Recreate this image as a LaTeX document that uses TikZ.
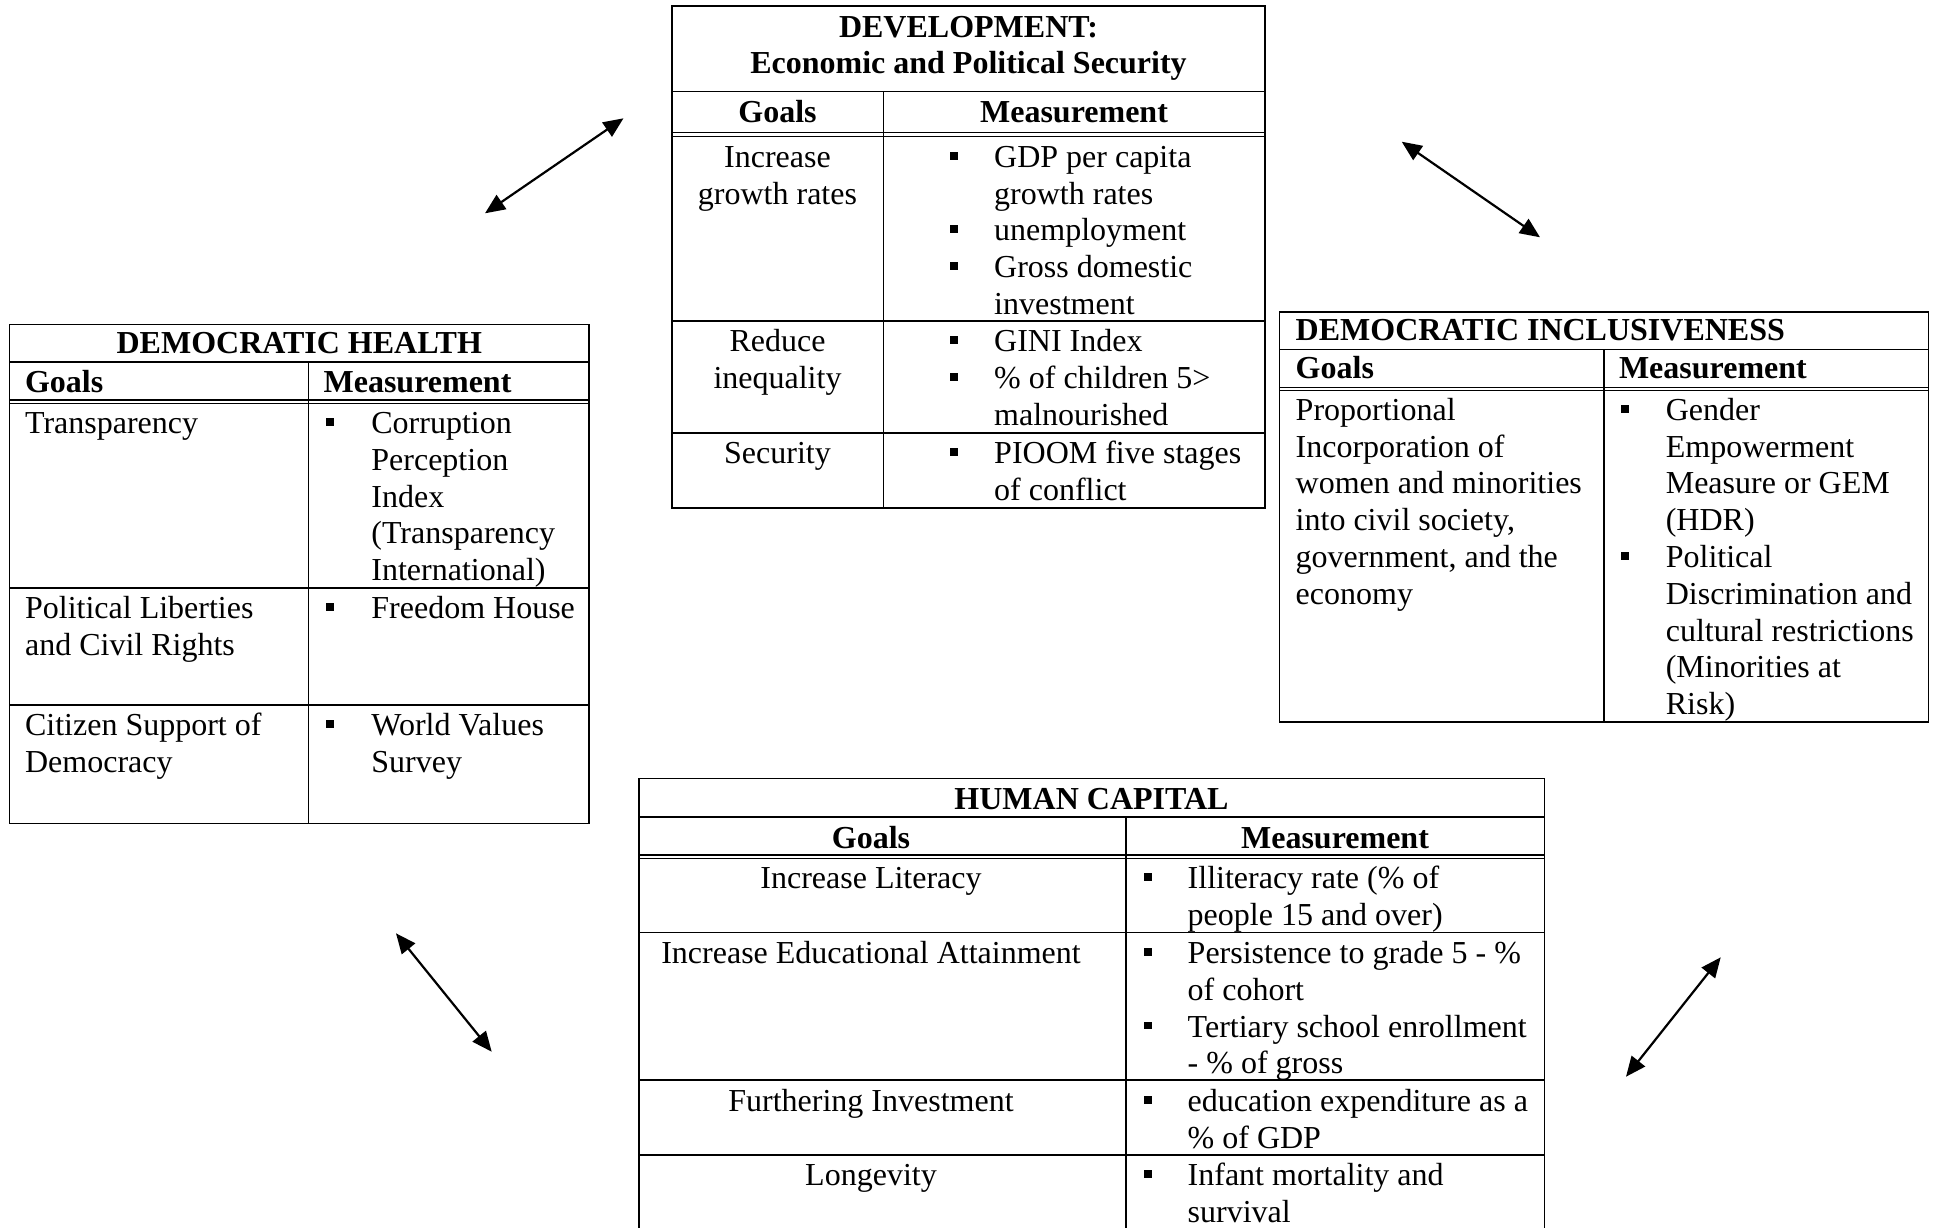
\documentclass[tikz,border=0pt]{standalone}
\usepackage{fontspec}
\setmainfont{Liberation Serif}
\usetikzlibrary{arrows.meta}
\newcommand\bulsq[2]{\fill (#1-3.9,#2-15.3) rectangle (#1+3.9,#2-7.5);}
\begin{document}
\begin{tikzpicture}[x=1pt,y=-1pt,
  frame/.style={line width=1.6pt},
  rule/.style={line width=1.6pt},
  thinrule/.style={line width=1.1pt},
  txt/.style={inner sep=0pt, yshift=25.76pt, font=\fontsize{32}{36.8}\selectfont},
  lcell/.style={txt, anchor=north west, align=left},
  ccell/.style={txt, anchor=north, align=center},
  blcell/.style={lcell, font=\fontsize{32}{36.8}\selectfont\bfseries},
  bccell/.style={ccell, font=\fontsize{32}{36.8}\selectfont\bfseries},
  link/.style={line width=2.2pt, {Triangle[length=20pt,width=17pt]}-{Triangle[length=20pt,width=17pt]}}
]
\useasboundingbox (0,0) rectangle (1937,1228);

% ---------------- DEVELOPMENT ----------------
\draw[frame] (672,6) rectangle (1265,507.7);
\draw[rule] (672,91.7) -- (1265,91.7);
\draw[rule] (883.4,91.7) -- (883.4,507.7);
\draw[thinrule] (672,132.8) -- (1265,132.8);
\draw[thinrule] (672,136.4) -- (1265,136.4);
\draw[rule] (672,320.7) -- (1265,320.7);
\draw[rule] (672,432.7) -- (1265,432.7);
\node[bccell] (devT) at (968.5,37) {\strut DEVELOPMENT:\\Economic and Political Security};
\node[bccell] (devG) at (777.5,122) {\strut Goals};
\node[bccell] (devM) at (1074,122) {\strut Measurement};
\node[ccell] (devg1) at (777.5,167) {\strut Increase\\growth rates};
\node[lcell] (devm1) at (994,167) {\strut GDP per capita\\growth rates\\unemployment\\Gross domestic\\investment};
\bulsq{954}{167}\bulsq{954}{240.6}\bulsq{954}{277.4}
\node[ccell] (devg2) at (777.5,351.5) {\strut Reduce\\inequality};
\node[lcell] (devm2) at (994,351.5) {\strut GINI Index\\\% of children 5>\\malnourished};
\bulsq{954}{351.5}\bulsq{954}{388.3}
\node[ccell] (devg3) at (777.5,463) {\strut Security};
\node[lcell] (devm3) at (994,463) {\strut PIOOM five stages\\of conflict};
\bulsq{954}{463}

% ---------------- DEMOCRATIC HEALTH ----------------
\draw[frame] (9.6,324.3) rectangle (589,823.3);
\draw[rule] (9.6,361.7) -- (589,361.7);
\draw[rule] (308.5,361.7) -- (308.5,823.3);
\draw[thinrule] (9.6,400) -- (589,400);
\draw[thinrule] (9.6,403.6) -- (589,403.6);
\draw[rule] (9.6,587.7) -- (589,587.7);
\draw[rule] (9.6,705) -- (589,705);
\node[bccell] (dhT) at (299.3,353.3) {\strut DEMOCRATIC HEALTH};
\node[blcell] (dhG) at (24.9,392.3) {\strut Goals};
\node[blcell] (dhM) at (323.4,392.3) {\strut Measurement};
\node[lcell] (dhg1) at (24.9,433.3) {\strut Transparency};
\node[lcell] (dhm1) at (371.2,433.3) {\strut Corruption\\Perception\\Index\\(Transparency\\International)};
\bulsq{330}{433.3}
\node[lcell] (dhg2) at (24.9,618) {\strut Political Liberties\\and Civil Rights};
\node[lcell] (dhm2) at (371.2,618) {\strut Freedom House};
\bulsq{330}{618}
\node[lcell] (dhg3) at (24.9,735) {\strut Citizen Support of\\Democracy};
\node[lcell] (dhm3) at (371.2,735) {\strut World Values\\Survey};
\bulsq{330}{735}

% ---------------- DEMOCRATIC INCLUSIVENESS ----------------
\draw[frame] (1279.4,311.7) rectangle (1928.4,721.7);
\draw[rule] (1279.4,349.3) -- (1928.4,349.3);
\draw[rule] (1603.9,349.3) -- (1603.9,721.7);
\draw[thinrule] (1279.4,387.3) -- (1928.4,387.3);
\draw[thinrule] (1279.4,390.9) -- (1928.4,390.9);
\node[blcell] (diT) at (1295.5,340) {\strut DEMOCRATIC INCLUSIVENESS};
\node[blcell] (diG) at (1295.5,378.3) {\strut Goals};
\node[blcell] (diM) at (1618.8,378.3) {\strut Measurement};
\node[lcell] (dig1) at (1295.5,420) {\strut Proportional\\Incorporation of\\women and minorities\\into civil society,\\government, and the\\economy};
\node[lcell] (dim1) at (1665.6,420) {\strut Gender\\Empowerment\\Measure or GEM\\(HDR)\\Political\\Discrimination and\\cultural restrictions\\(Minorities at\\Risk)};
\bulsq{1625}{420}\bulsq{1625}{567.2}

% ---------------- HUMAN CAPITAL ----------------
\draw[frame] (638.8,1240) -- (638.8,778.3) -- (1544.3,778.3) -- (1544.3,1240);
\draw[rule] (638.8,816.7) -- (1544.3,816.7);
\draw[rule] (1125.9,816.7) -- (1125.9,1240);
\draw[thinrule] (638.8,855) -- (1544.3,855);
\draw[thinrule] (638.8,858.6) -- (1544.3,858.6);
\draw[rule] (638.8,932.3) -- (1544.3,932.3);
\draw[rule] (638.8,1080) -- (1544.3,1080);
\draw[rule] (638.8,1155) -- (1544.3,1155);
\node[bccell] (hcT) at (1091.5,809.5) {\strut HUMAN CAPITAL};
\node[bccell] (hcG) at (871,848.3) {\strut Goals};
\node[bccell] (hcM) at (1335,848.3) {\strut Measurement};
\node[ccell] (hcg1) at (871,888.3) {\strut Increase Literacy};
\node[lcell] (hcm1) at (1187.5,888.3) {\strut Illiteracy rate (\% of\\people 15 and over)};
\bulsq{1148}{888.3}
\node[ccell] (hcg2) at (871,963.3) {\strut Increase Educational Attainment};
\node[lcell] (hcm2) at (1187.5,963.3) {\strut Persistence to grade 5 - \%\\of cohort\\Tertiary school enrollment\\- \% of gross};
\bulsq{1148}{963.3}\bulsq{1148}{1036.9}
\node[ccell] (hcg3) at (871,1111.7) {\strut Furthering Investment};
\node[lcell] (hcm3) at (1187.5,1111.7) {\strut education expenditure as a\\\% of GDP};
\bulsq{1148}{1111.7}
\node[ccell] (hcg4) at (871,1185.5) {\strut Longevity};
\node[lcell] (hcm4) at (1187.5,1185.5) {\strut Infant mortality and\\survival};
\bulsq{1148}{1185.5}

% ---------------- ARROWS ----------------
\coordinate (a1a) at (485,213.3);
\coordinate (a1b) at (623.5,118.3);
\coordinate (a2a) at (1401.7,141.7);
\coordinate (a2b) at (1540,237.3);
\coordinate (a3a) at (396,933.3);
\coordinate (a3b) at (491.7,1051.7);
\coordinate (a4a) at (1720.7,957.3);
\coordinate (a4b) at (1626,1076.7);
\draw[link] (a1a) -- (a1b);
\draw[link] (a2a) -- (a2b);
\draw[link] (a3a) -- (a3b);
\draw[link] (a4a) -- (a4b);
\end{tikzpicture}
\end{document}
